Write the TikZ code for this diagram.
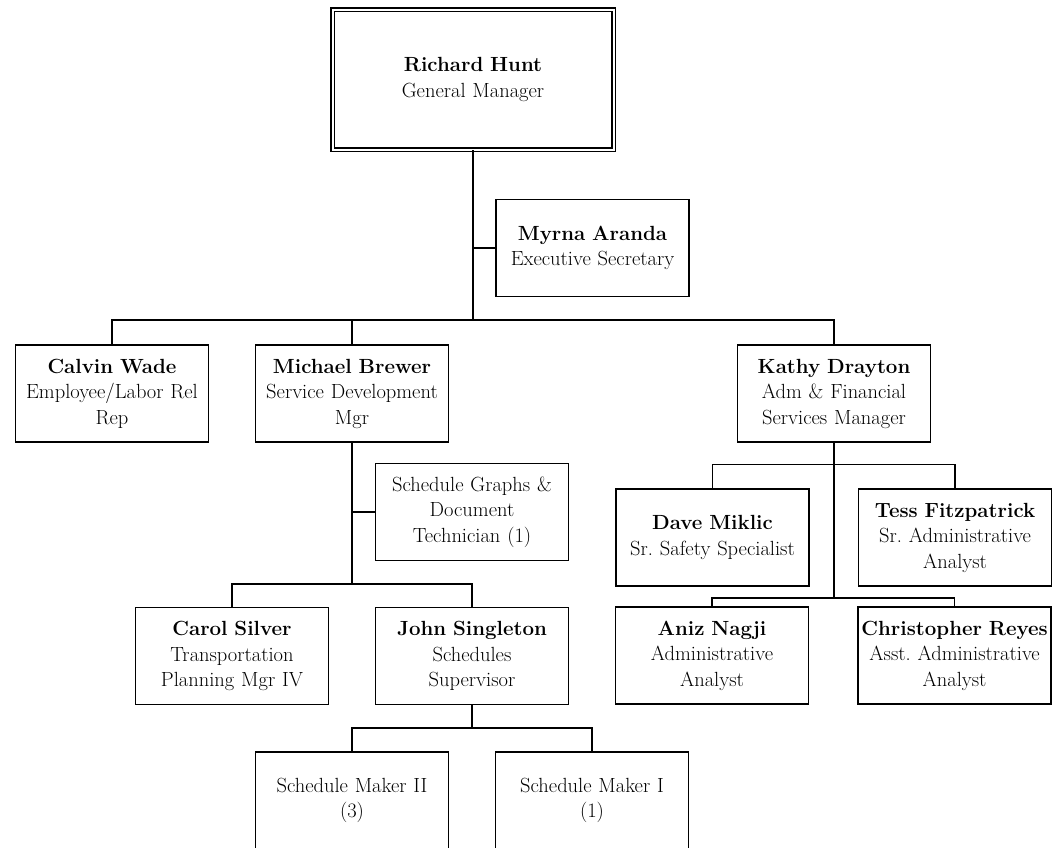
\documentclass[tikz,border=0pt]{standalone}
\usepackage{tikz}
\usetikzlibrary{positioning}
\frenchspacing
\tikzset{
    orgbox/.style={draw, line width=1.6pt, minimum width=193pt, minimum height=97pt,
        text width=189pt, inner sep=0pt, align=center, font=\fontsize{20.5}{25.5}\selectfont},
    topbox/.style={orgbox, double, double distance=2pt, line width=1.4pt,
        minimum width=281pt, minimum height=140pt},
    link/.style={line width=1.6pt},
}
\begin{document}
\begin{tikzpicture}[x=1pt, y=-1pt]
\clip (0,0) rectangle (1053,847);

% General manager and secretary
\node[topbox] (gm) at (473,79.5) {\textbf{Richard Hunt}\\General Manager};
\node[orgbox] (myrna) at (592.5,248) {\textbf{Myrna Aranda}\\Executive Secretary};

% First level
\node[orgbox] (calvin) at (112,393.5) {\textbf{Calvin Wade}\\Employee/Labor Rel\\Rep};
\node[orgbox] (michael) at (352,393.5) {\textbf{Michael Brewer}\\Service Development\\Mgr};
\node[orgbox] (kathy) at (834,393.5) {\textbf{Kathy Drayton}\\Adm \& Financial\\Services Manager};

% Service development
\node[orgbox] (sgd) at (472,512) {Schedule Graphs \&\\Document\\Technician (1)};
\node[orgbox] (carol) at (232,656) {\textbf{Carol Silver}\\Transportation\\Planning Mgr IV};
\node[orgbox] (john) at (472,656) {\textbf{John Singleton}\\Schedules\\Supervisor};
\node[orgbox] (smtwo) at (352,800.5) {Schedule Maker II\\(3)};
\node[orgbox] (smone) at (592,800.5) {Schedule Maker I\\(1)};

% Adm & financial services
\node[orgbox] (dave) at (712.5,537.5) {\textbf{Dave Miklic}\\Sr. Safety Specialist};
\node[orgbox, right=48pt of dave] (tess) {\textbf{Tess Fitzpatrick}\\Sr. Administrative\\Analyst};
\node[orgbox] (aniz) at (712,655.5) {\textbf{Aniz Nagji}\\Administrative\\Analyst};
\node[orgbox, right=48pt of aniz] (chris) {\textbf{Christopher Reyes}\\Asst. Administrative\\Analyst};

% bus junctions
\coordinate (topbus) at (473,320);
\coordinate (kbusa) at (834,464.5);
\coordinate (kbusb) at (834,598);
\coordinate (mbus) at (352,584);
\coordinate (jbus) at (472,728);

% connectors
\draw[link] (gm.south) -- (topbus);
\draw[link] (myrna.west) -- (myrna.west -| gm.south);
\draw[link] (calvin.north) |- (topbus) -| (kathy.north);
\draw[link] (michael.north) -- (michael.north |- topbus);

\draw[link] (michael.south) -- (mbus);
\draw[link] (sgd.west) -- (sgd.west -| michael.south);
\draw[link] (carol.north) |- (mbus) -| (john.north);
\draw[link] (john.south) -- (jbus);
\draw[link] (smtwo.north) |- (jbus) -| (smone.north);

\draw[link] (kathy.south) -- (kbusb);
\draw[link] (dave.north) |- (kbusa) -| (tess.north);
\draw[link] (aniz.north) |- (kbusb) -| (chris.north);
\end{tikzpicture}
\end{document}
